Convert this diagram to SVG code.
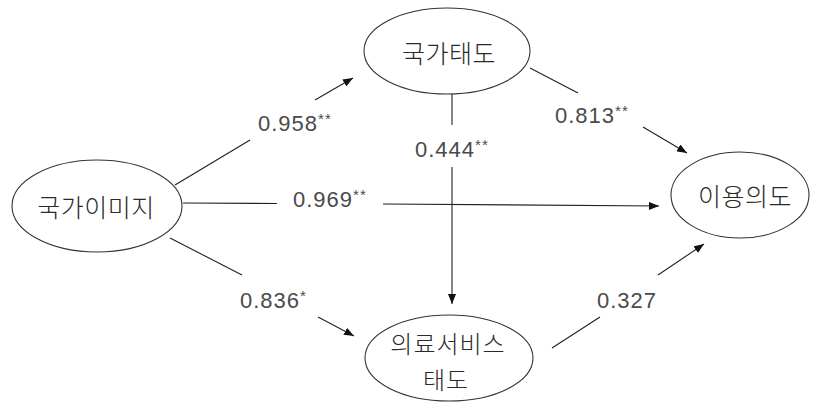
<svg xmlns="http://www.w3.org/2000/svg" width="813" height="402" viewBox="0 0 813 402">
<style>
.node ellipse{fill:#fff;stroke:#333;stroke-width:1.1}
.node text{font-family:"Noto Sans CJK KR","Noto Sans",sans-serif;font-size:25px;font-weight:300;letter-spacing:0.5px;fill:#2a2a2a;text-anchor:middle}
.node text.t2{font-size:24px;letter-spacing:1px}
.conn path{fill:none;stroke:#222;stroke-width:1.1}
.lbl{font-family:"Liberation Sans",Arial,sans-serif;font-size:22px;letter-spacing:1px;fill:#4a4a4a}
.lbl tspan.s{font-size:15px}
</style>
<defs>
<marker id="ah" viewBox="0 0 10 8" refX="10" refY="4" markerWidth="10" markerHeight="8" markerUnits="userSpaceOnUse" orient="auto">
<path d="M0,0 L10,4 L0,8 z" fill="#111"/>
</marker>
</defs>
<rect width="813" height="402" fill="#fff"/>
<g id="connectors" class="conn">
<path d="M175,185 L250,140"/>
<path d="M315,100 L353,78" marker-end="url(#ah)"/>
<path d="M183,203 L277,203.5"/>
<path d="M383,204 L659,206" marker-end="url(#ah)"/>
<path d="M170,238 L242,275"/>
<path d="M318,317 L354,336" marker-end="url(#ah)"/>
<path d="M452,94 L452,125"/>
<path d="M452,167 L452,304" marker-end="url(#ah)"/>
<path d="M530,68 L578,93"/>
<path d="M643,127 L687,153" marker-end="url(#ah)"/>
<path d="M552,348 L600,317"/>
<path d="M658,275 L704,244" marker-end="url(#ah)"/>
</g>
<g id="labels">
<text class="lbl" x="258" y="131">0.958<tspan class="s" dy="-7">**</tspan></text>
<text class="lbl" x="293" y="207">0.969<tspan class="s" dy="-7">**</tspan></text>
<text class="lbl" x="240" y="308">0.836<tspan class="s" dy="-7">*</tspan></text>
<text class="lbl" x="415" y="157">0.444<tspan class="s" dy="-7">**</tspan></text>
<text class="lbl" x="555" y="123">0.813<tspan class="s" dy="-7">**</tspan></text>
<text class="lbl" x="597" y="308">0.327</text>
</g>
<g id="node-nation-image" class="node">
<ellipse cx="97" cy="206" rx="85" ry="46"/>
<text x="96" y="217">국가이미지</text>
</g>
<g id="node-nation-attitude" class="node">
<ellipse cx="447" cy="51" rx="83" ry="43"/>
<text x="449" y="63">국가태도</text>
</g>
<g id="node-intention" class="node">
<ellipse cx="740" cy="195" rx="69" ry="43"/>
<text x="745" y="206">이용의도</text>
</g>
<g id="node-medical-attitude" class="node">
<ellipse cx="449" cy="358" rx="84" ry="43"/>
<text class="t2" x="448" y="353">의료서비스</text>
<text class="t2" x="446" y="389">태도</text>
</g>
</svg>
